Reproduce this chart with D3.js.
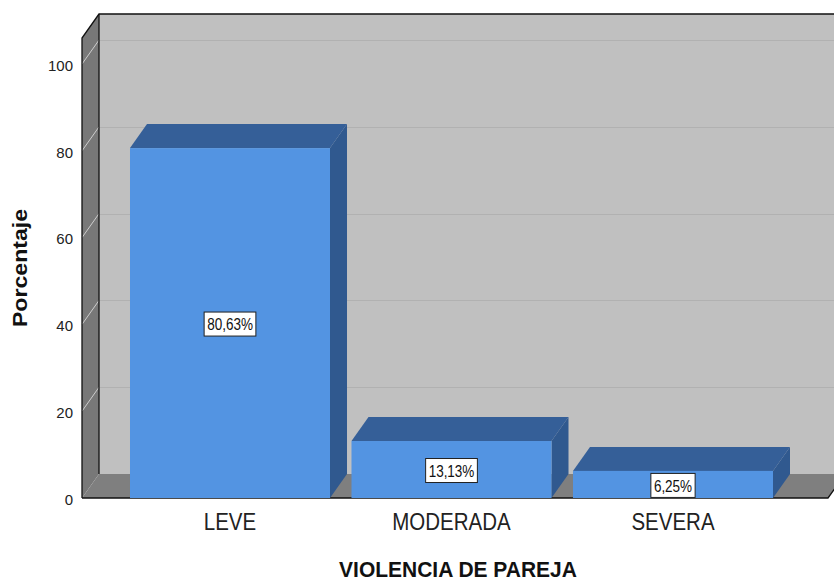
<!DOCTYPE html>
<html>
<head>
<meta charset="utf-8">
<script src="https://cdn.jsdelivr.net/npm/d3@7"></script>
<style>
  body { margin: 0; background: #fff; }
  svg { display: block; font-family: "Liberation Sans", Arial, sans-serif; }
</style>
</head>
<body>
<div id="chart"></div>
<script>
// data
const categories = ["LEVE", "MODERADA", "SEVERA"];
const percentages = [80.63, 13.13, 6.25];
const valueLabels = ["80,63%", "13,13%", "6,25%"];
const yTicks = [0, 20, 40, 60, 80, 100];

const width = 834, height = 581;
const plotLeft = 82, plotRight = 828, plotBottom = 498, plotTop = 38;
// 3d depth offset
const dx = 17, dy = -24;

const svg = d3.select("#chart").append("svg")
  .attr("width", width)
  .attr("height", height);

const x = d3.scaleBand()
  .domain(categories)
  .range([plotLeft, plotRight])
  .paddingInner(0.097)
  .paddingOuter(0.2325)
  .align(0.466);

const y = d3.scaleLinear()
  .domain([0, 106])
  .range([plotBottom, plotTop]);

const pts = (arr) => arr.map((p) => p.join(",")).join(" ");

// back wall
svg.append("rect")
  .attr("x", plotLeft + dx)
  .attr("y", plotTop + dy)
  .attr("width", width - plotLeft - dx + 5)
  .attr("height", plotBottom - plotTop)
  .attr("fill", "#c0c0c0");

// back wall grid
svg.append("g")
  .selectAll("line")
  .data(yTicks.filter((t) => t > 0))
  .join("line")
  .attr("x1", plotLeft + dx)
  .attr("x2", width)
  .attr("y1", (d) => Math.round(y(d) + dy) + 0.5)
  .attr("y2", (d) => Math.round(y(d) + dy) + 0.5)
  .attr("stroke", "#b1b1b1")
  .attr("stroke-width", 1.2);

// left wall
svg.append("polygon")
  .attr("points", pts([[plotLeft, plotTop], [plotLeft + dx, plotTop + dy], [plotLeft + dx, plotBottom + dy], [plotLeft, plotBottom]]))
  .attr("fill", "#787878");

svg.append("g")
  .selectAll("line")
  .data(yTicks.filter((t) => t > 0))
  .join("line")
  .attr("x1", plotLeft)
  .attr("y1", (d) => y(d))
  .attr("x2", plotLeft + dx)
  .attr("y2", (d) => y(d) + dy)
  .attr("stroke", "#cdcdcd")
  .attr("stroke-width", 1);

// floor
svg.append("polygon")
  .attr("points", pts([[plotLeft, plotBottom], [plotRight, plotBottom], [plotRight + dx, plotBottom + dy], [plotLeft + dx, plotBottom + dy]]))
  .attr("fill", "#7f7f7f");

// outlines
svg.append("path")
  .attr("d", `M${plotLeft},${plotBottom} L${plotLeft},${plotTop} L${plotLeft + dx},${plotTop + dy} L${width},${plotTop + dy}`)
  .attr("fill", "none")
  .attr("stroke", "#111")
  .attr("stroke-width", 1.3);
svg.append("path")
  .attr("d", `M${plotLeft + dx},${plotTop + dy} L${plotLeft + dx},${plotBottom + dy}`)
  .attr("fill", "none")
  .attr("stroke", "#111")
  .attr("stroke-width", 1.3);
svg.append("path")
  .attr("d", `M${plotLeft},${plotBottom} L${plotRight},${plotBottom} L${plotRight + dx},${plotBottom + dy}`)
  .attr("fill", "none")
  .attr("stroke", "#111")
  .attr("stroke-width", 1.3);

// bars
const bars = svg.append("g")
  .selectAll("g")
  .data(categories.map((c, i) => ({ cat: c, value: percentages[i], label: valueLabels[i] })))
  .join("g");

bars.append("polygon")
  .attr("points", (d) => {
    const x1 = x(d.cat) + x.bandwidth(), yt = y(d.value);
    return pts([[x1, yt], [x1 + dx, yt + dy], [x1 + dx, plotBottom + dy], [x1, plotBottom]]);
  })
  .attr("fill", "#30598f");

bars.append("polygon")
  .attr("points", (d) => {
    const x0 = x(d.cat), x1 = x0 + x.bandwidth(), yt = y(d.value);
    return pts([[x0, yt], [x0 + dx, yt + dy], [x1 + dx, yt + dy], [x1, yt]]);
  })
  .attr("fill", "#355f98");

bars.append("rect")
  .attr("x", (d) => x(d.cat))
  .attr("y", (d) => y(d.value))
  .attr("width", x.bandwidth())
  .attr("height", (d) => plotBottom - y(d.value))
  .attr("fill", "#5394e2");

// value labels
const labelScale = 1.25;
bars.each(function (d) {
  const g = d3.select(this);
  const cx = x(d.cat) + x.bandwidth() / 2;
  const cy = y(d.value / 2) + 1;
  const t = g.append("text")
    .attr("transform", `translate(${cx},${cy}) scale(1,${labelScale})`)
    .attr("text-anchor", "middle")
    .attr("dy", "0.36em")
    .attr("font-size", 13.5)
    .attr("fill", "#111")
    .text(d.label);
  const w = t.node().getComputedTextLength();
  g.insert("rect", "text")
    .attr("x", cx - w / 2 - 3)
    .attr("y", cy - 12)
    .attr("width", w + 6)
    .attr("height", 24)
    .attr("fill", "#fff")
    .attr("stroke", "#222")
    .attr("stroke-width", 1);
});

// y tick labels
svg.append("g")
  .selectAll("text")
  .data(yTicks)
  .join("text")
  .attr("x", 73)
  .attr("y", (d) => y(d))
  .attr("dy", "0.45em")
  .attr("text-anchor", "end")
  .attr("font-size", 15)
  .attr("fill", "#222")
  .text((d) => d);

// category labels
const catScale = 1.2;
svg.append("g")
  .selectAll("text")
  .data(categories)
  .join("text")
  .attr("transform", (d) => `translate(${x(d) + x.bandwidth() / 2},530) scale(1,${catScale})`)
  .attr("text-anchor", "middle")
  .attr("font-size", 20.5)
  .attr("fill", "#222")
  .text((d) => d);

// axis titles
svg.append("text")
  .attr("transform", "translate(458,577) scale(1,1.08)")
  .attr("text-anchor", "middle")
  .attr("font-size", 21)
  .attr("font-weight", "bold")
  .attr("fill", "#111")
  .text("VIOLENCIA DE PAREJA");

svg.append("text")
  .attr("transform", "translate(27,268) scale(1,1.1) rotate(-90)")
  .attr("text-anchor", "middle")
  .attr("font-size", 21)
  .attr("font-weight", "bold")
  .attr("fill", "#111")
  .text("Porcentaje");
</script>
</body>
</html>
